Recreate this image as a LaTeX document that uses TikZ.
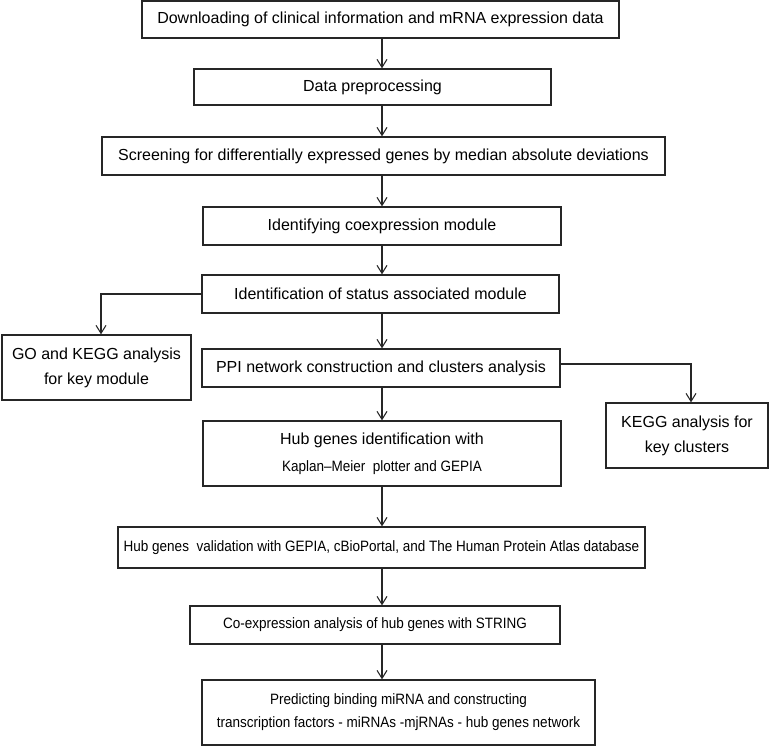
\documentclass[tikz,border=0pt]{standalone}
\usepackage{fontspec}
\setmainfont{Liberation Sans}
\newfontfamily\narrowfont[FakeStretch=0.9]{Liberation Sans}
\usetikzlibrary{arrows.meta,calc}
\tikzset{
  box/.style={draw=black!85, line width=1pt, rectangle, inner sep=0pt, align=center,
    font=\fontsize{12pt}{15pt}\selectfont},
  nbox/.style={box, font=\narrowfont\fontsize{11.25pt}{17.25pt}\selectfont},
  sz/.style 2 args={minimum width=#1, minimum height=#2},
  arr/.style={draw=black!85, line width=0.8pt, -{Straight Barb[length=6pt,width=7.5pt]}},
}
\begin{document}
\begin{tikzpicture}[x=0.75pt,y=-0.75pt]
\fill[white] (0,0) rectangle (770,747);
\useasboundingbox (0,0) rectangle (770,747);
\coordinate (m) at (382,0);
\node[box, sz={357.75pt}{27.75pt}] (b1) at (380.5,19.5) {Downloading of clinical information and mRNA expression data};
\node[box, sz={267.75pt}{27pt}] (b2) at (372.5,87) {Data preprocessing};
\node[box, sz={422.25pt}{28.5pt}] (b3) at (383.5,156) {Screening for differentially expressed genes by median absolute deviations};
\node[box, sz={268.5pt}{28.5pt}] (b4) at (382,226) {Identifying coexpression module};
\node[box, sz={267.75pt}{28.5pt}] (b5) at (380.5,294) {Identification of status associated module};
\node[box, sz={141.75pt}{48.75pt}, font=\fontsize{12pt}{18.75pt}\selectfont] (go) at (96.5,367.5) {GO and KEGG analysis\\for key module};
\node[box, sz={268.5pt}{28.5pt}] (ppi) at (381,368) {PPI network construction and clusters analysis};
\node[box, sz={121.5pt}{48.75pt}, font=\fontsize{12pt}{18.75pt}\selectfont] (kegg) at (687,435.5) {KEGG analysis for\\key clusters};
\node[box, sz={268.5pt}{48.75pt}] (hub) at (382,453.5) {Hub genes identification with\\[5pt]{\narrowfont\fontsize{11.25pt}{13pt}\selectfont Kaplan–Meier\ \ plotter and GEPIA}};
\node[nbox, sz={395.25pt}{30.75pt}] (val) at (381.5,547.5) {Hub genes\ \ validation with GEPIA, cBioPortal, and The Human Protein Atlas database};
\node[nbox, sz={277.5pt}{28.5pt}] (coex) at (375,625) {Co-expression analysis of hub genes with STRING};
\node[nbox, sz={294.75pt}{48.75pt}] (fin) at (398.5,712.5) {Predicting binding miRNA and constructing\\transcription factors - miRNAs -mjRNAs - hub genes network};
\draw[arr] (b1.south -| m) -- (b2.north -| m);
\draw[arr] (b2.south -| m) -- (b3.north -| m);
\draw[arr] (b3.south -| m) -- (b4.north -| m);
\draw[arr] (b4.south -| m) -- (b5.north -| m);
\draw[arr] (b5.south -| m) -- (ppi.north -| m);
\draw[arr] (ppi.south -| m) -- (hub.north -| m);
\draw[arr] (hub.south -| m) -- (val.north -| m);
\draw[arr] (val.south -| m) -- (coex.north -| m);
\draw[arr] (coex.south -| m) -- (fin.north -| m);
\draw[arr] (b5.west) -| ($(go.north)+(4.5,0)$);
\draw[arr] ($(ppi.east)+(0,-4)$) -| ($(kegg.north)+(4,0)$);
\end{tikzpicture}
\end{document}
